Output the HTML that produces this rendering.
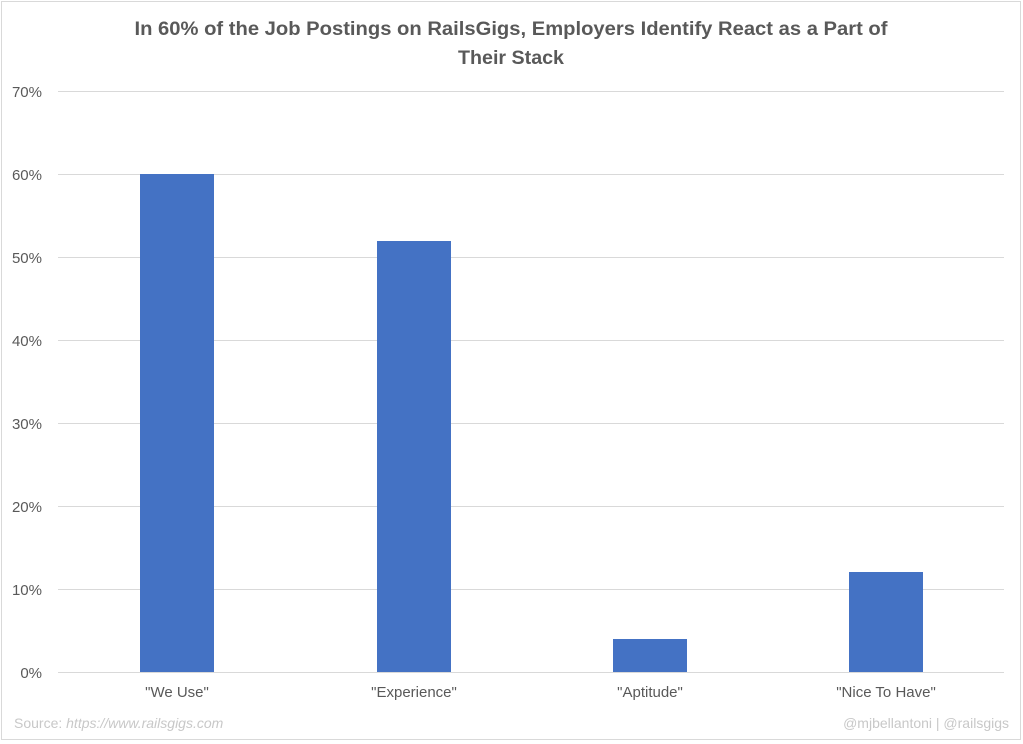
<!DOCTYPE html>
<html><head><meta charset="utf-8"><style>
html,body{margin:0;padding:0;background:#fff;}
svg{display:block;font-family:"Liberation Sans",sans-serif;}
</style></head><body>
<svg width="1023" height="744" viewBox="0 0 1023 744" xmlns="http://www.w3.org/2000/svg">
<rect x="1.5" y="1.5" width="1019" height="738" fill="#fff" stroke="#d9d9d9"/>
<text x="511" y="35" text-anchor="middle" font-size="19" font-weight="bold" fill="#595959" textLength="753" lengthAdjust="spacingAndGlyphs">In 60% of the Job Postings on RailsGigs, Employers Identify React as a Part of</text>
<text x="511" y="64" text-anchor="middle" font-size="19" font-weight="bold" fill="#595959" textLength="106" lengthAdjust="spacingAndGlyphs">Their Stack</text>
<g stroke="#d9d9d9" stroke-width="1">
<line x1="58" x2="1004" y1="91.5" y2="91.5"/>
<line x1="58" x2="1004" y1="174.5" y2="174.5"/>
<line x1="58" x2="1004" y1="257.5" y2="257.5"/>
<line x1="58" x2="1004" y1="340.5" y2="340.5"/>
<line x1="58" x2="1004" y1="423.5" y2="423.5"/>
<line x1="58" x2="1004" y1="506.5" y2="506.5"/>
<line x1="58" x2="1004" y1="589.5" y2="589.5"/>
<line x1="58" x2="1004" y1="672.5" y2="672.5"/>
</g>
<g font-size="15" fill="#595959" text-anchor="end">
<text x="42" y="97">70%</text>
<text x="42" y="180">60%</text>
<text x="42" y="263">50%</text>
<text x="42" y="346">40%</text>
<text x="42" y="429">30%</text>
<text x="42" y="512">20%</text>
<text x="42" y="595">10%</text>
<text x="42" y="678">0%</text>
</g>
<g fill="#4472c4">
<rect x="140" y="174" width="74" height="498"/>
<rect x="377" y="241" width="74" height="431"/>
<rect x="613" y="639" width="74" height="33"/>
<rect x="849" y="572" width="74" height="100"/>
</g>
<g font-size="15" fill="#595959" text-anchor="middle">
<text x="177" y="697">"We Use"</text>
<text x="414" y="697">"Experience"</text>
<text x="650" y="697">"Aptitude"</text>
<text x="886" y="697">"Nice To Have"</text>
</g>
<text x="14" y="728" font-size="14" fill="#c8c8c8">Source: <tspan font-style="italic">https://www.railsgigs.com</tspan></text>
<text x="1009" y="728" font-size="14" fill="#c8c8c8" text-anchor="end">@mjbellantoni | @railsgigs</text>
</svg>
</body></html>
